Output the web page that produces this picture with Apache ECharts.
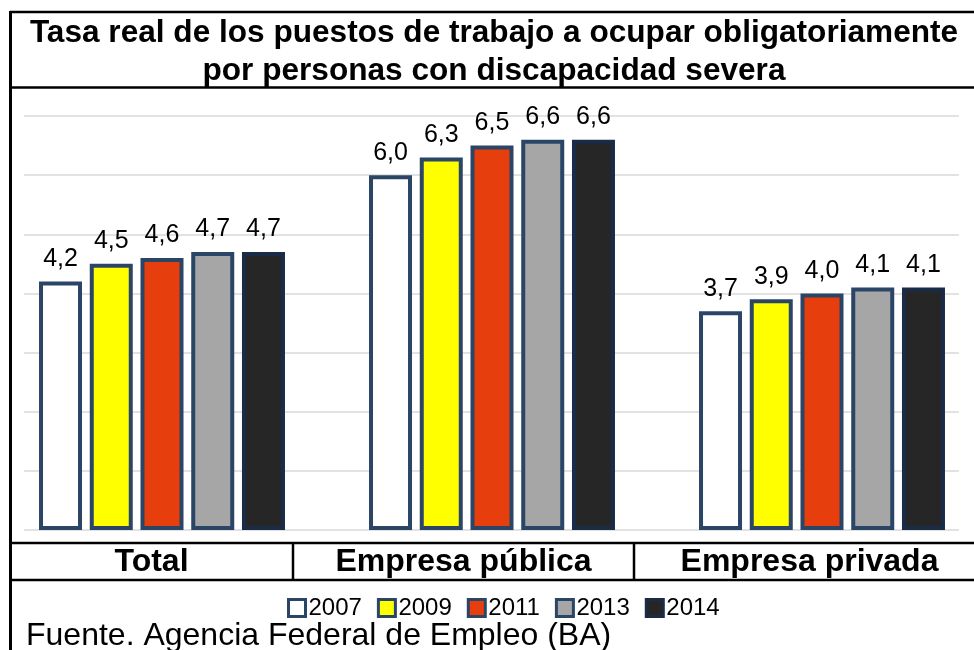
<!DOCTYPE html>
<html>
<head>
<meta charset="UTF-8">
<title>Tasa real</title>
<script src="https://cdn.jsdelivr.net/npm/echarts@6/dist/echarts.min.js"></script>
<style>
  html, body { margin: 0; padding: 0; background: #fff; }
  #main { width: 974px; height: 650px; }
</style>
</head>
<body>
<div id="main"></div>
<script type="text/javascript">
// datos
var categorias = ['Total', 'Empresa pública', 'Empresa privada'];
var anios = ['2007', '2009', '2011', '2013', '2014'];
var v2007 = [4.2, 6.0, 3.7];
var v2009 = [4.5, 6.3, 3.9];
var v2011 = [4.6, 6.5, 4.0];
var v2013 = [4.7, 6.6, 4.1];
var v2014 = [4.7, 6.6, 4.1];
var ejeY = [0, 7, 1]; // min, max, intervalo

var valores = [v2007, v2009, v2011, v2013, v2014];
var colores = ['#FFFFFF', '#FFFF00', '#E63E0C', '#A6A6A6', '#262626'];
var bordes = ['#2B4567', '#2B4567', '#2B4567', '#2B4567', '#192B46'];
// celdas de la fila de categorias (x inicio, x fin)
var celdas = [[10, 293], [293, 634], [634, 985]];

var myChart = echarts.init(document.getElementById('main'));

var series = [];
for (var i = 0; i < anios.length; i++) {
	series.push({
		name: anios[i],
		type: 'bar',
		xAxisIndex: 1,
		yAxisIndex: 1,
		data: valores[i],
		barWidth: 43,
		barGap: '18%',
		itemStyle: {
			color: colores[i],
			borderColor: bordes[i],
			borderWidth: 4
		},
		label: {
			show: true,
			position: 'top',
			distance: 10,
			color: '#000',
			fontFamily: 'Liberation Sans',
			fontSize: 25,
			formatter: function (p) {
				return p.value.toFixed(1).replace('.', ',');
			}
		}
	});
}

var graficos = [];
var negro = '#000';
function linea(x1, y1, x2, y2, w) {
	graficos.push({
		type: 'line',
		shape: { x1: x1, y1: y1, x2: x2, y2: y2 },
		style: { stroke: negro, lineWidth: w },
		z: 100
	});
}
linea(10, 12, 974, 12, 2.5);
linea(10, 87.5, 974, 87.5, 2.5);
linea(10.5, 11, 10.5, 650, 3);
linea(10, 543, 974, 543, 2.5);
linea(10, 580, 974, 580, 2.5);
linea(293, 543, 293, 580, 2.5);
linea(634, 543, 634, 580, 2.5);

// titulo
graficos.push({
	type: 'text',
	x: 494,
	y: 14,
	style: {
		text: 'Tasa real de los puestos de trabajo a ocupar obligatoriamente\npor personas con discapacidad severa',
		font: 'bold 31.6px "Liberation Sans"',
		lineHeight: 38,
		fill: negro,
		textAlign: 'center',
		textVerticalAlign: 'top'
	}
});

// fila de categorias
for (var c = 0; c < categorias.length; c++) {
	graficos.push({
		type: 'text',
		x: (celdas[c][0] + celdas[c][1]) / 2,
		y: 562,
		style: {
			text: categorias[c],
			font: 'bold 32px "Liberation Sans"',
			fill: negro,
			textAlign: 'center',
			textVerticalAlign: 'middle'
		}
	});
}

// fuente
graficos.push({
	type: 'text',
	x: 26,
	y: 636,
	style: {
		text: 'Fuente. Agencia Federal de Empleo (BA)',
		font: '32px "Liberation Sans"',
		fill: negro,
		textAlign: 'left',
		textVerticalAlign: 'middle'
	}
});

var option = {
	animation: false,
	backgroundColor: '#fff',
	grid: [
		{ left: 24, right: 15, top: 116, bottom: 120, outerBoundsMode: 'none' },
		{ left: -3, width: 990, top: 116, bottom: 120, outerBoundsMode: 'none' }
	],
	xAxis: [
		{ type: 'value', gridIndex: 0, show: false },
		{
			type: 'category', gridIndex: 1, data: categorias, show: false
		}
	],
	yAxis: [
		{
			type: 'value', gridIndex: 0, min: ejeY[0], max: ejeY[1], interval: ejeY[2],
			axisLine: { show: false }, axisTick: { show: false }, axisLabel: { show: false },
			splitLine: { show: true, lineStyle: { color: '#D9D9D9', width: 1.5 } }
		},
		{
			type: 'value', gridIndex: 1, min: ejeY[0], max: ejeY[1], interval: ejeY[2], show: false
		}
	],
	legend: {
		data: anios,
		left: 282,
		top: 591,
		itemWidth: 17,
		itemHeight: 17,
		itemGap: 15,
		icon: 'rect',
		itemStyle: { borderWidth: 3, borderColor: 'inherit' },
		textStyle: { color: '#000', fontFamily: 'Liberation Sans', fontSize: 24, padding: [0, 0, 0, -2] }
	},
	graphic: graficos,
	series: series
};
myChart.setOption(option);
</script>
</body>
</html>
